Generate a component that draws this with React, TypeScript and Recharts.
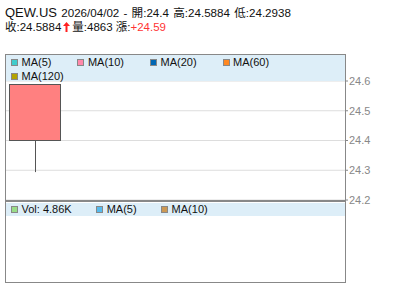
import React from "react";
import { ComposedChart, Bar, XAxis, YAxis, CartesianGrid } from "recharts";

const symbol = "QEW.US";
const dates = ["2026/04/02"];
const opens = [24.4];
const highs = [24.5884];
const lows = [24.2938];
const closes = [24.5884];
const volumes = [4863];
const changeText = "+24.59";
const volText = "4.86K";
const priceTicks = [24.2, 24.3, 24.4, 24.5, 24.6];
const priceDomain = [24.2, 24.6];

const maLabels = ["MA(5)", "MA(10)", "MA(20)", "MA(60)", "MA(120)"];
const maColors = ["#40CCCC", "#FF88AA", "#0066B3", "#FF8822", "#B3A300"];
const volLabels = ["Vol: " + volText, "MA(5)", "MA(10)"];
const volColors = ["#99DD88", "#55BBEE", "#CC9955"];

const data = dates.map((d, i) => ({
  date: d,
  open: opens[i],
  high: highs[i],
  low: lows[i],
  close: closes[i],
  volume: volumes[i],
  range: [lows[i], highs[i]],
}));

const FONT = "'Liberation Sans', Arial, 'Noto Sans CJK TC', sans-serif";

const Candle = (props: any) => {
  const { x, y, width, height, payload } = props;
  const { open, close, high, low } = payload;
  const span = high - low || 1;
  const k = height / span;
  const oy = y + (high - open) * k;
  const cy = y + (high - close) * k;
  const top = Math.min(oy, cy);
  const bh = Math.max(Math.abs(oy - cy), 1);
  const cx = Math.round(x + width / 2) + 0.5;
  const up = close >= open;
  return (
    <g>
      <line x1={cx} x2={cx} y1={y} y2={y + height} stroke="#555" strokeWidth={1} />
      <rect
        x={Math.round(x) + 0.5}
        y={Math.round(top) + 0.5}
        width={Math.round(width)}
        height={Math.round(bh)}
        fill={up ? "#FF8080" : "#80C080"}
        stroke="#555"
        strokeWidth={1}
      />
    </g>
  );
};

const LegendItem = ({ label, color, gap }: { label: string; color: string; gap: number }) => (
  <div style={{ display: "flex", alignItems: "center", marginRight: gap, height: 13.5 }}>
    <div
      style={{
        width: 7,
        height: 7,
        background: color,
        border: "1px solid #888",
        boxSizing: "border-box",
        marginRight: 3.5,
      }}
    />
    <span style={{ fontSize: 11, color: "#111", lineHeight: "13px" }}>{label}</span>
  </div>
);

const UpArrow = () => (
  <svg width={7} height={10} viewBox="0 0 7 10" style={{ margin: "0 2px 0 2px", verticalAlign: "-1px" }}>
    <path d="M3.5 0 L7 4 L4.5 4 L4.5 10 L2.5 10 L2.5 4 L0 4 Z" fill="#FF2020" />
  </svg>
);

export default function App() {
  const d0 = data[0];
  return (
    <div
      style={{
        position: "absolute",
        left: 0,
        top: 0,
        width: 400,
        height: 301,
        background: "#fff",
        fontFamily: FONT,
        overflow: "hidden",
      }}
    >
      {/* header */}
      <div style={{ position: "absolute", left: 5, top: 4, whiteSpace: "nowrap", color: "#111", lineHeight: "16px" }}>
        <span style={{ fontSize: 13 }}>{symbol}</span>
        <span style={{ fontSize: 11.6, wordSpacing: 1 }}>
          {" "}
          {d0.date} - 開:{d0.open} 高:{d0.high} 低:{d0.low}
        </span>
      </div>
      <div style={{ position: "absolute", left: 5, top: 19, whiteSpace: "nowrap", color: "#111", fontSize: 11.5, lineHeight: "16px" }}>
        <span>收:{d0.close}</span>
        <UpArrow />
        <span>量:{d0.volume} 漲:</span>
        <span style={{ color: "#FF3333" }}>{changeText}</span>
      </div>

      <div style={{ position: "absolute", left: 0, top: 0 }}>
        <ComposedChart
          width={400}
          height={301}
          data={data}
          margin={{ top: 81, right: 0, left: 6, bottom: 101 }}
        >
          <CartesianGrid vertical={false} stroke="#DDDDDD" />
          <XAxis dataKey="date" hide padding={{ left: 0, right: 283 }} />
          <YAxis
            orientation="right"
            width={55}
            domain={priceDomain}
            ticks={priceTicks}
            axisLine={false}
            tickSize={3}
            tickMargin={1}
            tickLine={{ stroke: "#888" }}
            tick={{ fill: "#888", fontSize: 11, fontFamily: FONT }}
            tickFormatter={(v: number) => v.toFixed(1)}
          />
          <Bar dataKey="range" barSize={51} shape={Candle} isAnimationActive={false} />
        </ComposedChart>
      </div>

      {/* price legend band */}
      <div
        style={{
          position: "absolute",
          left: 6,
          top: 55,
          width: 339,
          height: 26,
          background: "#DDEEF8",
          display: "flex",
          flexWrap: "wrap",
          paddingLeft: 5,
          paddingTop: 1,
          boxSizing: "border-box",
        }}
      >
        {maLabels.map((l, i) => (
          <LegendItem key={l} label={l} color={maColors[i]} gap={26} />
        ))}
      </div>

      {/* separator */}
      <div style={{ position: "absolute", left: 6, top: 200, width: 339, height: 2, background: "#888" }} />

      {/* volume legend band */}
      <div
        style={{
          position: "absolute",
          left: 6,
          top: 203,
          width: 339,
          height: 13,
          background: "#DDEEF8",
          display: "flex",
          paddingLeft: 5,
          boxSizing: "border-box",
        }}
      >
        {volLabels.map((l, i) => (
          <LegendItem key={l} label={l} color={volColors[i]} gap={24.5} />
        ))}
      </div>

      {/* frame */}
      <div
        style={{
          position: "absolute",
          left: 5,
          top: 54,
          width: 341,
          height: 229,
          border: "1px solid #888",
          boxSizing: "border-box",
          pointerEvents: "none",
        }}
      />
    </div>
  );
}
